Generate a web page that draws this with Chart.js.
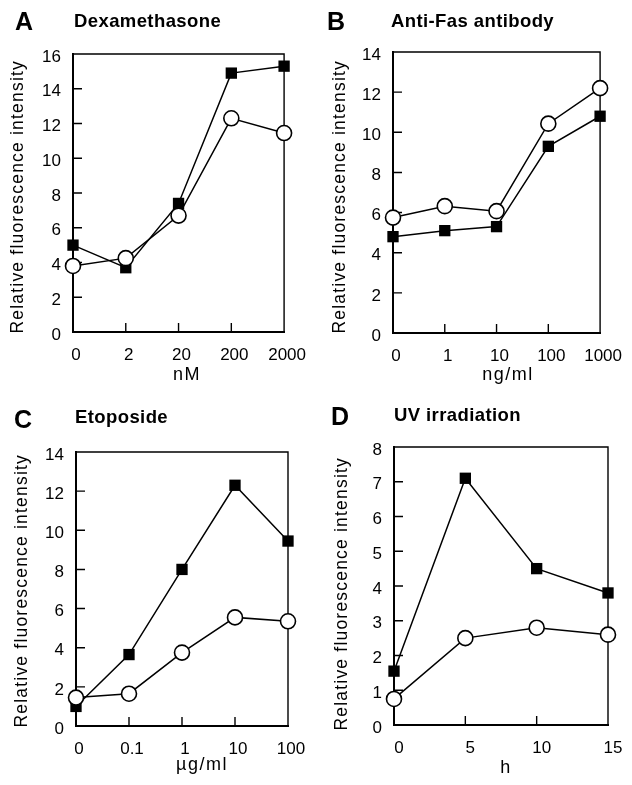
<!DOCTYPE html>
<html>
<head>
<meta charset="utf-8">
<script src="https://cdn.jsdelivr.net/npm/chart.js@4.4.0/dist/chart.umd.min.js"></script>
<style>
html, body { margin: 0; padding: 0; background: #fff; }
#wrap { position: relative; width: 632px; height: 785px; overflow: hidden; font-family: 'Liberation Sans', Arial, sans-serif; color: #000; }
canvas { position: absolute; }
.t { position: absolute; white-space: nowrap; line-height: 1; }
.letter { font-weight: bold; font-size: 25px; }
.title { font-weight: bold; font-size: 18.5px; letter-spacing: 0.4px; }
.xt { font-size: 18px; letter-spacing: 1.5px; text-align: center; width: 200px; }
.yt { font-size: 17.5px; letter-spacing: 1.2px; text-align: center; width: 320px; height: 17.5px; transform: rotate(-90deg); }
</style>
</head>
<body>
<div id="wrap">
  <canvas id="cA" width="316" height="392" style="left:0;top:0"></canvas>
  <canvas id="cB" width="316" height="392" style="left:316px;top:0"></canvas>
  <canvas id="cC" width="316" height="393" style="left:0;top:392px"></canvas>
  <canvas id="cD" width="316" height="393" style="left:316px;top:392px"></canvas>

  <div class="t letter" style="left:15px;top:9px">A</div>
  <div class="t title" style="left:74px;top:12px">Dexamethasone</div>
  <div class="t letter" style="left:327px;top:9px">B</div>
  <div class="t title" style="left:391px;top:12px">Anti-Fas antibody</div>
  <div class="t letter" style="left:14px;top:407px">C</div>
  <div class="t title" style="left:75px;top:408px">Etoposide</div>
  <div class="t letter" style="left:331px;top:404px">D</div>
  <div class="t title" style="left:394px;top:406px">UV irradiation</div>

  <div class="t xt" style="left:87px;top:365px">nM</div>
  <div class="t xt" style="left:408px;top:365px">ng/ml</div>
  <div class="t xt" style="left:102px;top:755px">µg/ml</div>
  <div class="t xt" style="left:406px;top:758px">h</div>

  <div class="t yt" style="left:-142px;top:188px">Relative fluorescence intensity</div>
  <div class="t yt" style="left:180px;top:188px">Relative fluorescence intensity</div>
  <div class="t yt" style="left:-138px;top:582px">Relative fluorescence intensity</div>
  <div class="t yt" style="left:182px;top:585px">Relative fluorescence intensity</div>
</div>
<script>
// A: dexamethasone (nM)
const dexDoses = ['0', '2', '20', '200', '2000'];
const dexFilled = [5.0, 3.7, 7.4, 14.9, 15.3];
const dexOpen = [3.8, 4.25, 6.7, 12.3, 11.45];

// B: anti-Fas antibody (ng/ml)
const fasDoses = ['0', '1', '10', '100', '1000'];
const fasFilled = [4.8, 5.1, 5.3, 9.3, 10.8];
const fasOpen = [5.75, 6.32, 6.07, 10.43, 12.2];

// C: etoposide (ug/ml)
const etoDoses = ['0', '0.1', '1', '10', '100'];
const etoFilled = [1.0, 3.65, 8.0, 12.3, 9.45];
const etoOpen = [1.45, 1.65, 3.75, 5.55, 5.35];

// D: UV irradiation (h)
const uvHours = [0, 5, 10, 15];
const uvFilled = [1.55, 7.1, 4.5, 3.8];
const uvOpen = [0.75, 2.5, 2.8, 2.6];

const tickFont = { family: "'Liberation Sans', Arial, sans-serif", size: 17 };

// box top/right lines + inward tick marks
const framePlugin = {
    id: 'frame',
    beforeDatasetsDraw(chart) {
        const { ctx, chartArea: a, scales: { x, y } } = chart;
        ctx.save();
        ctx.strokeStyle = '#000';
        ctx.lineWidth = 1.4;
        ctx.beginPath();
        ctx.moveTo(a.left, a.top);
        ctx.lineTo(a.right, a.top);
        ctx.lineTo(a.right, a.bottom);
        x.ticks.forEach((t, i) => {
            const px = x.getPixelForTick(i);
            ctx.moveTo(px, a.bottom);
            ctx.lineTo(px, a.bottom - 9);
        });
        y.ticks.forEach((t, i) => {
            const py = y.getPixelForTick(i);
            ctx.moveTo(a.left, py);
            ctx.lineTo(a.left + 9, py);
        });
        ctx.stroke();
        ctx.restore();
    }
};

const openSet = data => ({
    data, borderColor: '#000', borderWidth: 1.5, fill: false, tension: 0, clip: false,
    pointStyle: 'circle', pointRadius: 7.5, pointBackgroundColor: '#fff',
    pointBorderColor: '#000', pointBorderWidth: 1.6
});
const filledSet = data => ({
    data, borderColor: '#000', borderWidth: 1.5, fill: false, tension: 0, clip: false,
    pointStyle: 'rect', pointRadius: 8, pointBackgroundColor: '#000',
    pointBorderColor: '#000', pointBorderWidth: 0
});

const makePanel = (id, p) => {
    const xScale = p.linear
        ? { type: 'linear', min: p.xMin, max: p.xMax, ticks: { stepSize: p.xStep } }
        : { type: 'category', labels: p.labels, offset: false, ticks: {} };
    Object.assign(xScale.ticks, { color: '#000', font: tickFont, padding: 13, labelOffset: p.xLabelShift, maxRotation: 0, autoSkip: false });
    xScale.grid = { display: false, drawTicks: false };
    xScale.border = { display: true, color: '#000', width: 2 };
    xScale.afterFit = s => { s.height = p.xh; };

    new Chart(document.getElementById(id), {
        type: 'line',
        data: {
            datasets: [openSet(p.open), filledSet(p.filled)]
        },
        options: {
            responsive: false,
            animation: false,
            events: [],
            layout: { padding: { left: 0, top: p.top, right: p.right, bottom: 0 } },
            plugins: { legend: { display: false }, tooltip: { enabled: false } },
            scales: {
                x: xScale,
                y: {
                    min: 0, max: p.yMax,
                    ticks: { stepSize: p.yStep, color: '#000', font: tickFont, padding: 12, labelOffset: 3 },
                    grid: { display: false, drawTicks: false },
                    border: { display: true, color: '#000', width: 2 },
                    afterFit: s => { s.width = p.yw; }
                }
            }
        },
        plugins: [framePlugin]
    });
};

makePanel('cA', { labels: dexDoses, filled: dexFilled, open: dexOpen, yMax: 16, yStep: 2, yw: 73, right: 31, top: 54, xh: 60, xLabelShift: 3 });
makePanel('cB', { labels: fasDoses, filled: fasFilled, open: fasOpen, yMax: 14, yStep: 2, yw: 77, right: 26, top: 52, xh: 59, xLabelShift: 3 });
makePanel('cC', { labels: etoDoses, filled: etoFilled, open: etoOpen, yMax: 14, yStep: 2, yw: 76, right: 28, top: 60, xh: 59, xLabelShift: 3 });
makePanel('cD', {
    linear: true, xMin: 0, xMax: 15, xStep: 5,
    filled: uvHours.map((h, i) => ({ x: h, y: uvFilled[i] })),
    open: uvHours.map((h, i) => ({ x: h, y: uvOpen[i] })),
    yMax: 8, yStep: 1, yw: 78, right: 24, top: 55, xh: 60, xLabelShift: 5
});
</script>
</body>
</html>
